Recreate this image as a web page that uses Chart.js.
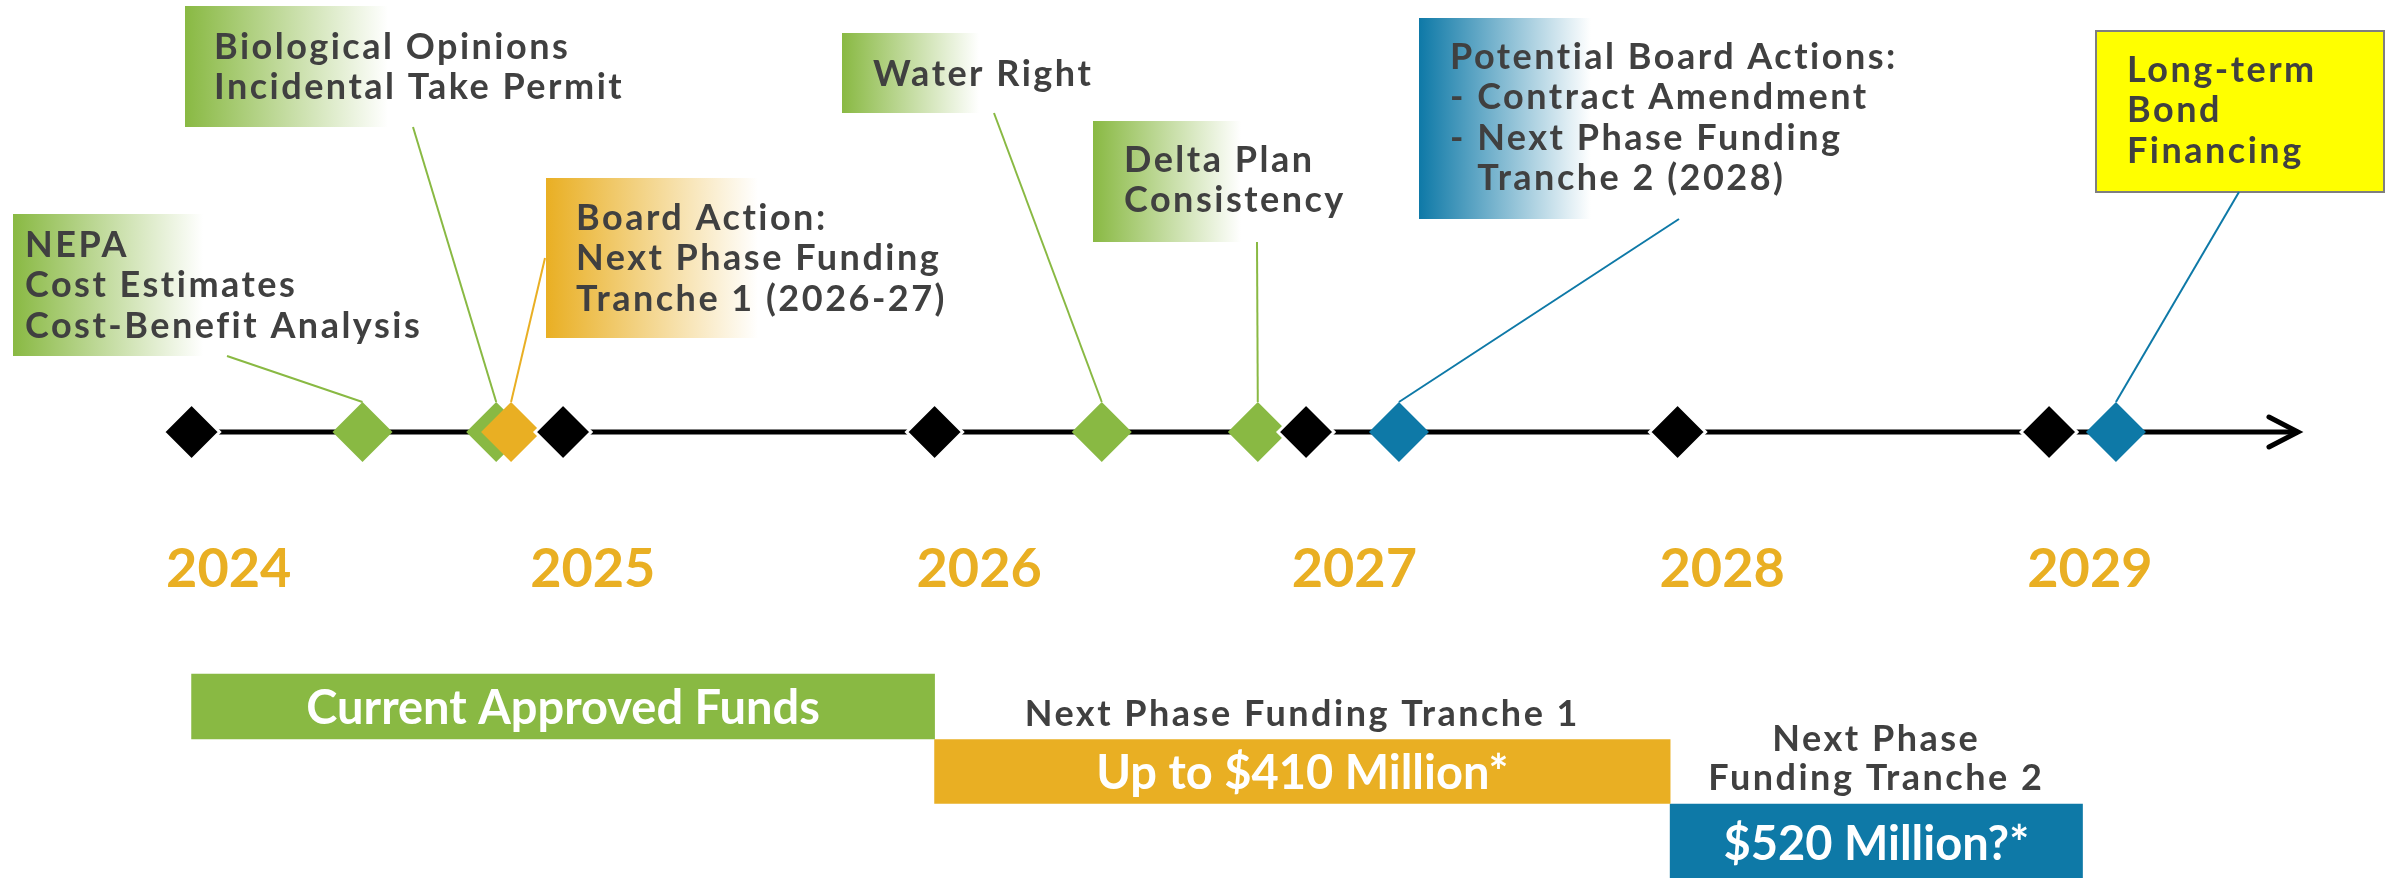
<!DOCTYPE html>
<html>
<head>
<meta charset="utf-8">
<script src="https://cdn.jsdelivr.net/npm/chart.js@4.4.1/dist/chart.umd.min.js"></script>
<style>
  html, body { margin: 0; padding: 0; background: #fff; overflow: hidden; }
  #timeline { display: block; }
</style>
</head>
<body>
<canvas id="timeline" width="2403" height="878"></canvas>
<script>
// year markers on the timeline
const years = [2024, 2025, 2026, 2027, 2028, 2029];
const yearLabels = ['2024', '2025', '2026', '2027', '2028', '2029'];

// milestones, in years
const greenMilestones = [2024.46, 2024.82, 2026.45, 2026.87];
const goldMilestones = [2024.86];
const blueMilestones = [2027.25, 2029.18];

// callout texts, one per milestone
const greenNotes = [
  ['NEPA', 'Cost Estimates', 'Cost-Benefit Analysis'],
  ['Biological Opinions', 'Incidental Take Permit'],
  ['Water Right'],
  ['Delta Plan', 'Consistency']
];
const goldNotes = [['Board Action:', 'Next Phase Funding', 'Tranche 1 (2026-27)']];
const blueNotes = [
  ['Potential Board Actions:', '- Contract Amendment', '- Next Phase Funding', 'Tranche 2 (2028)'],
  ['Long-term', 'Bond', 'Financing']
];

// funding periods
const fundStart = [2024, 2026, 2027.98];
const fundEnd = [2026, 2027.98, 2029.09];
const fundText = ['Current Approved Funds', 'Up to $410 Million*', '$520 Million?*'];
const fundTitle = [[], ['Next Phase Funding Tranche 1'], ['Next Phase', 'Funding Tranche 2']];

// ---- styles / layout ----
const GREEN = '#89B943', GOLD = '#E9AF23', BLUE = '#0E79A7', INK = '#404040';
const FONT = 'Lato, "Open Sans", sans-serif';
const axisEnd = 2029.67;
const yearLabelAt = [2024.10, 2025.08, 2026.12, 2027.13, 2028.12, 2029.11];
const fundRow = [0, 1, 2.1];
const fundThickness = [65, 64, 78];
const fundColor = [GREEN, GOLD, BLUE];

const calloutLayout = {
  green: [
    {box: [13, 214, 190, 142], text: [25, 257], anchor: [227, 356]},
    {box: [185, 6, 203, 121], text: [214, 59], anchor: [413, 127]},
    {box: [842, 33, 137, 80], text: [873, 86], anchor: [994, 113]},
    {box: [1093, 121, 148, 121], text: [1124, 172], anchor: [1257, 242]}
  ],
  gold: [
    {box: [546, 178, 212, 160], text: [576, 230], anchor: [545, 258]}
  ],
  blue: [
    {box: [1419, 18, 172, 201], text: [1450, 69], anchor: [1679, 219], indent: [0, 0, 0, 1]},
    {box: [2096, 31, 288, 161], text: [2127, 82], anchor: [2239, 192], solid: '#FFFF00'}
  ]
};

const groups = [
  {values: greenMilestones, notes: greenNotes, color: GREEN, layout: calloutLayout.green},
  {values: goldMilestones, notes: goldNotes, color: GOLD, layout: calloutLayout.gold},
  {values: blueMilestones, notes: blueNotes, color: BLUE, layout: calloutLayout.blue}
];

const MARK_R = 30;
const NOTE_FONT = 'bold 36px ' + FONT;
const NOTE_SPACING = '2.5px';

const timelinePlugin = {
  id: 'timelineDecor',
  beforeDatasetsDraw(chart) {
    const {ctx, scales: {x, y}} = chart;
    const y0 = y.getPixelForValue(0);
    ctx.save();

    // callout boxes and texts
    groups.forEach(g => g.notes.forEach((lines, i) => {
      const L = g.layout[i];
      const [bx, by, bw, bh] = L.box;
      if (L.solid) {
        ctx.fillStyle = L.solid;
        ctx.fillRect(bx, by, bw, bh);
        ctx.strokeStyle = '#7F7F7F';
        ctx.lineWidth = 2;
        ctx.strokeRect(bx, by, bw, bh);
      } else {
        const grad = ctx.createLinearGradient(bx, 0, bx + bw, 0);
        grad.addColorStop(0, g.color);
        grad.addColorStop(1, '#FFFFFF');
        ctx.fillStyle = grad;
        ctx.fillRect(bx, by, bw, bh);
      }
      ctx.fillStyle = INK;
      ctx.font = NOTE_FONT;
      ctx.letterSpacing = NOTE_SPACING;
      ctx.textAlign = 'left';
      ctx.textBaseline = 'alphabetic';
      const dash = ctx.measureText('- ').width;
      lines.forEach((t, k) => {
        const ind = L.indent && L.indent[k] ? dash : 0;
        ctx.fillText(t, L.text[0] + ind, L.text[1] + k * 40.3);
      });

      // connector to the milestone
      ctx.strokeStyle = g.color;
      ctx.lineWidth = 2;
      ctx.beginPath();
      ctx.moveTo(L.anchor[0], L.anchor[1]);
      ctx.lineTo(x.getPixelForValue(g.values[i]), y0 - MARK_R);
      ctx.stroke();
    }));

    // timeline with open arrow head
    const xs = x.getPixelForValue(years[0]) - 22;
    const xe = x.getPixelForValue(axisEnd);
    ctx.strokeStyle = '#000';
    ctx.lineWidth = 5;
    ctx.lineCap = 'butt';
    ctx.beginPath();
    ctx.moveTo(xs, y0);
    ctx.lineTo(xe, y0);
    ctx.stroke();
    ctx.lineCap = 'round';
    ctx.lineJoin = 'miter';
    ctx.beginPath();
    ctx.moveTo(xe - 29, y0 - 15);
    ctx.lineTo(xe, y0);
    ctx.lineTo(xe - 29, y0 + 15);
    ctx.stroke();

    // year labels
    ctx.letterSpacing = '0px';
    ctx.font = 'bold 54px ' + FONT;
    ctx.fillStyle = GOLD;
    ctx.textAlign = 'center';
    yearLabels.forEach((t, i) => {
      ctx.fillText(t, x.getPixelForValue(yearLabelAt[i]), y0 + 155);
    });
    ctx.restore();
  },
  afterDatasetsDraw(chart) {
    const {ctx} = chart;
    ctx.save();
    ctx.textAlign = 'center';
    ctx.textBaseline = 'alphabetic';
    fundText.forEach((t, i) => {
      const bar = chart.getDatasetMeta(4 + i).data[0];
      const cx = (bar.x + bar.base) / 2;
      ctx.letterSpacing = '0px';
      ctx.font = 'bold 47px ' + FONT;
      ctx.fillStyle = '#FFFFFF';
      ctx.fillText(t, cx, bar.y + 17);
      const top = bar.y - bar.height / 2;
      const title = fundTitle[i];
      ctx.font = NOTE_FONT;
      ctx.letterSpacing = NOTE_SPACING;
      ctx.fillStyle = INK;
      title.forEach((line, k) => {
        ctx.fillText(line, cx, top - 14 - (title.length - 1 - k) * 39);
      });
    });
    ctx.restore();
  }
};

const marks = (vals) => vals.map(v => ({x: v, y: 0}));

function draw() {
  new Chart(document.getElementById('timeline'), {
    type: 'scatter',
    data: {
      datasets: [
        {label: 'Years', data: marks(years), pointStyle: 'rectRot', pointRadius: 28,
         backgroundColor: '#000', borderColor: '#FFF', borderWidth: 3, order: 0},
        {label: 'Board action', data: marks(goldMilestones), pointStyle: 'rectRot', pointRadius: MARK_R,
         backgroundColor: GOLD, borderWidth: 0, order: 1},
        {label: 'Potential actions', data: marks(blueMilestones), pointStyle: 'rectRot', pointRadius: MARK_R,
         backgroundColor: BLUE, borderWidth: 0, order: 2},
        {label: 'Permits', data: marks(greenMilestones), pointStyle: 'rectRot', pointRadius: MARK_R,
         backgroundColor: GREEN, borderWidth: 0, order: 3}
      ].concat(fundText.map((t, i) => ({
        type: 'bar',
        label: t,
        indexAxis: 'y',
        xAxisID: 'x',
        yAxisID: 'yRows',
        data: [{x: [fundStart[i], fundEnd[i]], y: fundRow[i]}],
        backgroundColor: fundColor[i],
        barThickness: fundThickness[i],
        grouped: false,
        order: 10 + i
      })))
    },
    options: {
      responsive: false,
      animation: false,
      events: [],
      devicePixelRatio: 1,
      layout: {padding: 0, autoPadding: false},
      plugins: {legend: {display: false}, tooltip: {enabled: false}},
      scales: {
        x: {type: 'linear', min: 2023.4843, max: 2029.9527, display: false, offset: false},
        y: {type: 'linear', min: -1, max: 0.9686, display: false, offset: false},
        yRows: {type: 'linear', axis: 'y', reverse: true, offset: false, grace: 0,
                min: -10.869, max: 2.638, display: false}
      }
    },
    plugins: [timelinePlugin]
  });
}

document.fonts.load('bold 36px Lato').then(draw, draw);
</script>
</body>
</html>
